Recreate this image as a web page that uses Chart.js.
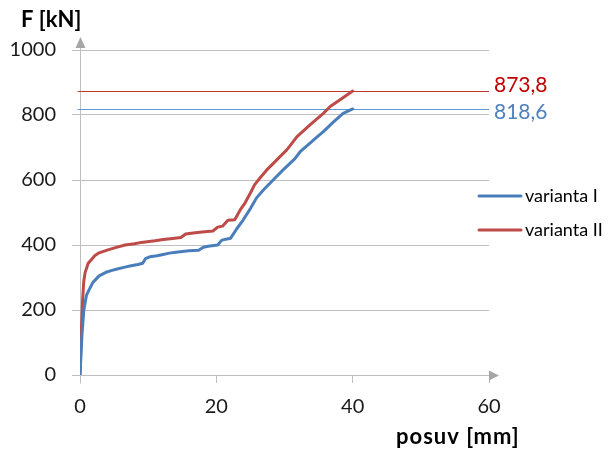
<!DOCTYPE html>
<html>
<head>
<meta charset="utf-8">
<script src="https://cdn.jsdelivr.net/npm/chart.js@4/dist/chart.umd.min.js"></script>
<style>
  html, body { margin: 0; padding: 0; background: #fff; }
  #wrap { position: relative; width: 614px; height: 450px; }
</style>
</head>
<body>
<div id="wrap"><canvas id="c" width="614" height="450"></canvas></div>
<script>
// ---- data ----
const seriesNames = ["varianta I", "varianta II"];
const variantaI = [
  [0,0],[0.28,120],[0.56,200],[0.94,245],[1.4,265],[1.9,285],[2.8,305],[3.8,316],[4.7,322],
  [5.6,327],[6.6,332],[7.5,336],[8.5,340],[9.2,344],[9.6,358],[10.3,364],[11.3,367],[12.2,371],
  [13.1,375],[14.1,378],[15,380],[16,382],[17.4,384],[18.1,393],[18.8,396],[20.2,400],[20.8,415],
  [22.1,421],[23,450],[23.9,476],[25,512],[25.9,545],[26.9,569],[27.9,591],[28.8,610],[29.8,631],
  [30.8,651],[31.5,665],[32.3,687],[33.7,713],[34.7,731],[35.7,749],[37.2,779],[38.6,805],[40,818.6]
];
const variantaII = [
  [0,0],[0.19,130],[0.38,230],[0.56,290],[0.75,315],[1.2,344],[2.2,368],[2.8,376],[4.1,385],
  [5.2,392],[6.6,400],[8,404],[9,408],[11,413],[12.2,417],[13.6,420],[14.8,423],[15.5,434],
  [16.9,438],[18.3,441],[19.5,443],[20.2,455],[20.9,458],[21.7,476],[22.7,478],[23.5,508],
  [24.2,529],[25,560],[25.6,585],[26.4,606],[27.4,631],[28.4,652],[29.3,671],[30.3,692],
  [30.8,705],[31.8,733],[33.7,769],[35.7,805],[36.7,826],[38.1,846],[40,873.8]
];
const refValues = [873.8, 818.6];
const refLabels = ["873,8", "818,6"];
const xTicks = [0, 20, 40, 60];
const yTicks = [0, 200, 400, 600, 800, 1000];
const xTitle = "posuv [mm]";
const yTitle = "F [kN]";

const BLUE = "#4a7ebb", RED = "#be4b48";
const GRID = "#bfbfbf";
const FONT = "Lato, 'Open Sans', 'DejaVu Sans', sans-serif";

const toPts = a => a.map(p => ({x: p[0], y: p[1]}));

const overlay = {
  id: "overlay",
  beforeDatasetsDraw(chart) {
    const {ctx, chartArea: ca, scales: {x, y}} = chart;
    ctx.save();
    ctx.strokeStyle = GRID; ctx.fillStyle = "#a6a6a6"; ctx.lineWidth = 1;
    const x0 = Math.round(x.getPixelForValue(0)) + 0.5;
    const y0 = Math.round(y.getPixelForValue(0)) + 0.5;
    ctx.beginPath(); ctx.moveTo(x0, y0 + 8); ctx.lineTo(x0, ca.top - 4); ctx.stroke();
    ctx.beginPath(); ctx.moveTo(x0 - 5, ca.top - 2); ctx.lineTo(x0 + 5, ca.top - 2); ctx.lineTo(x0, ca.top - 13); ctx.closePath(); ctx.fill();
    ctx.beginPath(); ctx.moveTo(x0 - 8, y0); ctx.lineTo(ca.right + 2, y0); ctx.stroke();
    ctx.beginPath(); ctx.moveTo(ca.right, y0 - 5); ctx.lineTo(ca.right, y0 + 5); ctx.lineTo(ca.right + 10, y0); ctx.closePath(); ctx.fill();
    const refColors = ["#c0392b", "#5b9bd5"];
    refValues.forEach((v, i) => {
      const py = Math.round(y.getPixelForValue(v)) + 0.5;
      ctx.strokeStyle = refColors[i]; ctx.lineWidth = 1;
      ctx.beginPath(); ctx.moveTo(x0 - 3, py); ctx.lineTo(ca.right, py); ctx.stroke();
    });
    ctx.restore();
  },
  afterDraw(chart) {
    const {ctx, chartArea: ca, scales: {y}} = chart;
    ctx.save();
    const labColors = ["#c00000", "#4f81bd"];
    const offs = [-6, 3];
    ctx.font = "21px " + FONT; ctx.textBaseline = "middle"; ctx.textAlign = "left";
    refValues.forEach((v, i) => {
      ctx.fillStyle = labColors[i];
      ctx.fillText(refLabels[i], ca.right + 5, y.getPixelForValue(v) + offs[i]);
    });
    ctx.fillStyle = "#000"; ctx.font = "bold 22px " + FONT;
    ctx.fillText(yTitle, 21, 20);
    try { ctx.letterSpacing = "1px"; } catch (e) {}
    ctx.fillText(xTitle, 396, 437);
    try { ctx.letterSpacing = "0px"; } catch (e) {}
    const items = [[seriesNames[0], BLUE, 196], [seriesNames[1], RED, 230]];
    ctx.font = "18px " + FONT;
    items.forEach(([t, c, py]) => {
      ctx.strokeStyle = c; ctx.lineWidth = 3; ctx.lineCap = "round";
      ctx.beginPath(); ctx.moveTo(479, py); ctx.lineTo(521, py); ctx.stroke();
      ctx.fillStyle = "#000";
      ctx.fillText(t, 525, py);
    });
    ctx.restore();
  }
};

new Chart(document.getElementById("c"), {
  type: "scatter",
  data: {
    datasets: [
      { label: seriesNames[0], data: toPts(variantaI), showLine: true, borderColor: BLUE, backgroundColor: BLUE,
        borderWidth: 3, pointRadius: 0, tension: 0, borderJoinStyle: "round", borderCapStyle: "round" },
      { label: seriesNames[1], data: toPts(variantaII), showLine: true, borderColor: RED, backgroundColor: RED,
        borderWidth: 3, pointRadius: 0, tension: 0, borderJoinStyle: "round", borderCapStyle: "round" }
    ]
  },
  options: {
    responsive: false,
    animation: false,
    events: [],
    layout: { padding: { left: 0, top: 50, right: 125, bottom: 0 } },
    plugins: { legend: { display: false }, tooltip: { enabled: false } },
    scales: {
      x: {
        type: "linear", min: 0, max: 60,
        afterBuildTicks: s => { s.ticks = xTicks.map(v => ({value: v})); },
        afterFit: s => { s.height = 75; },
        ticks: { font: { family: FONT, size: 20 }, color: "#1a1a1a", padding: 12, maxRotation: 0,
                 callback: v => String(v) },
        grid: { drawOnChartArea: false, drawTicks: true, tickLength: 8, color: GRID },
        border: { display: false }
      },
      y: {
        type: "linear", min: 0, max: 1000,
        afterBuildTicks: s => { s.ticks = yTicks.map(v => ({value: v})); },
        afterFit: s => { s.width = 80; },
        ticks: { font: { family: FONT, size: 20 }, color: "#1a1a1a", padding: 16,
                 callback: v => String(v) },
        grid: { color: GRID, tickLength: 8, drawTicks: true },
        border: { display: false }
      }
    }
  },
  plugins: [overlay]
});
</script>
</body>
</html>
